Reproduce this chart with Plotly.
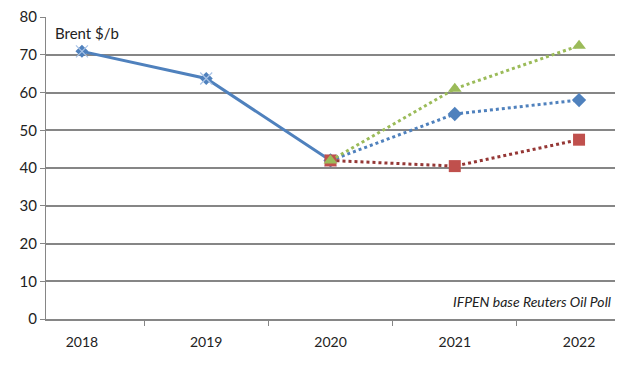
import plotly.graph_objects as go

years = ["2018", "2019", "2020", "2021", "2022"]
historical = [70.9, 63.7, 42.0, None, None]
central = [None, None, 42.0, 54.3, 58.0]
low = [None, None, 42.0, 40.5, 47.5]
high = [None, None, 42.0, 61.0, 72.4]
y_ticks = [0, 10, 20, 30, 40, 50, 60, 70, 80]

fig = go.Figure()
fig.add_trace(go.Scatter(x=years, y=historical, mode="lines+markers",
                         line=dict(color="#4F81BD", width=3),
                         marker=dict(symbol="diamond", size=10, color="#4F81BD")))
fig.add_trace(go.Scatter(x=years, y=historical, mode="markers",
                         marker=dict(symbol="x-thin-open", size=12, color="#A9C3E6",
                                     line=dict(color="#A9C3E6", width=1.2))))
fig.add_trace(go.Scatter(x=years, y=central, mode="lines+markers",
                         line=dict(color="#4F81BD", width=3, dash="dot"),
                         marker=dict(symbol="diamond", size=11, color="#4F81BD")))
fig.add_trace(go.Scatter(x=years, y=low, mode="lines+markers",
                         line=dict(color="#953735", width=3, dash="dot"),
                         marker=dict(symbol="square", size=12, color="#C0504D")))
fig.add_trace(go.Scatter(x=years, y=high, mode="lines+markers",
                         line=dict(color="#9BBB59", width=3, dash="dot"),
                         marker=dict(symbol="triangle-up", size=12, color="#9BBB59")))

fig.update_layout(
    width=644, height=371,
    margin=dict(l=38, r=37, t=9, b=60),
    paper_bgcolor="white", plot_bgcolor="white",
    showlegend=False,
    font=dict(family="Lato, Open Sans, sans-serif", size=14, color="#222"),
    xaxis=dict(type="category", showgrid=False, ticks="outside", tickson="boundaries",
               ticklen=5, tickcolor="#868686", showline=True, linecolor="#868686",
               linewidth=1.5, tickfont=dict(size=14), automargin=False,
               ticklabelstandoff=9),
    yaxis=dict(range=[0, 80], tickvals=y_ticks, showgrid=True, gridcolor="#868686",
               gridwidth=1.5, showline=True, linecolor="#868686", linewidth=1,
               ticks="outside", ticklen=5, tickcolor="#868686", zeroline=False,
               tickfont=dict(size=15), automargin=False, ticklabeloverflow="allow"),
    annotations=[
        dict(text="Brent $/b", xref="paper", yref="paper", x=0.012, y=0.985,
             xanchor="left", yanchor="top", showarrow=False, font=dict(size=15)),
        dict(text="<i>IFPEN base Reuters Oil Poll</i>", xref="paper", yref="paper",
             x=0.997, y=0.058, xanchor="right", yanchor="middle", showarrow=False,
             font=dict(size=14)),
    ],
)

fig.write_html("out.html")
